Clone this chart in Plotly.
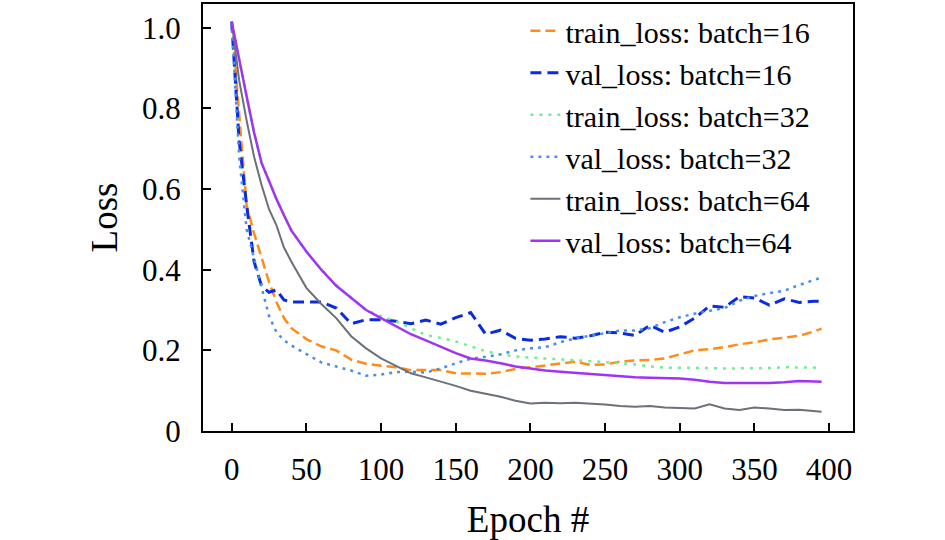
import plotly.graph_objects as go

epochs = [0, 5, 10, 15, 20, 25, 30, 35, 40, 50, 60, 70, 80, 90, 100, 110, 120, 130, 140, 150,
          160, 170, 180, 190, 200, 210, 220, 230, 240, 250, 260, 270, 280, 290, 300, 310,
          320, 330, 340, 350, 360, 370, 380, 390, 395]

train_loss_16 = [1.015, 0.78, 0.56, 0.49, 0.43, 0.37, 0.32, 0.28, 0.255, 0.228, 0.21, 0.2, 0.177,
                 0.167, 0.162, 0.158, 0.151, 0.151, 0.151, 0.143, 0.142, 0.142, 0.146, 0.154,
                 0.158, 0.163, 0.168, 0.172, 0.164, 0.165, 0.172, 0.175, 0.176, 0.18, 0.19, 0.2,
                 0.203, 0.208, 0.215, 0.22, 0.227, 0.232, 0.236, 0.247, 0.254]
val_loss_16 = [1.015, 0.72, 0.56, 0.42, 0.36, 0.344, 0.35, 0.325, 0.32, 0.32, 0.32, 0.305, 0.266,
               0.276, 0.276, 0.272, 0.266, 0.275, 0.265, 0.281, 0.294, 0.24, 0.25, 0.23, 0.225,
               0.228, 0.234, 0.23, 0.236, 0.245, 0.243, 0.237, 0.262, 0.245, 0.258, 0.28, 0.31,
               0.307, 0.333, 0.33, 0.312, 0.328, 0.319, 0.322, 0.322]
train_loss_32 = [1.015, 0.92, 0.83, 0.74, 0.665, 0.62, 0.575, 0.535, 0.497, 0.445, 0.4, 0.362,
                 0.332, 0.3, 0.285, 0.272, 0.255, 0.238, 0.231, 0.222, 0.21, 0.198, 0.19, 0.185,
                 0.182, 0.18, 0.178, 0.176, 0.174, 0.171, 0.168, 0.165, 0.16, 0.157, 0.157, 0.157,
                 0.156, 0.155, 0.155, 0.155, 0.156, 0.158, 0.157, 0.157, 0.157]
val_loss_32 = [1.015, 0.68, 0.5, 0.43, 0.356, 0.285, 0.245, 0.225, 0.212, 0.19, 0.17, 0.16, 0.15,
               0.137, 0.14, 0.146, 0.147, 0.145, 0.155, 0.168, 0.179, 0.184, 0.19, 0.2, 0.205,
               0.208, 0.22, 0.23, 0.236, 0.243, 0.249, 0.249, 0.255, 0.27, 0.282, 0.291, 0.298,
               0.305, 0.323, 0.335, 0.342, 0.348, 0.362, 0.375, 0.381]
train_loss_64 = [1.015, 0.87, 0.77, 0.68, 0.61, 0.55, 0.51, 0.455, 0.42, 0.355, 0.315, 0.28, 0.235,
                 0.205, 0.18, 0.162, 0.143, 0.133, 0.123, 0.112, 0.1, 0.092, 0.085, 0.075, 0.068,
                 0.07, 0.069, 0.07, 0.068, 0.066, 0.062, 0.06, 0.062, 0.058, 0.057, 0.056, 0.066,
                 0.056, 0.052, 0.058, 0.056, 0.052, 0.053, 0.05, 0.048]
val_loss_64 = [1.015, 0.92, 0.83, 0.74, 0.665, 0.62, 0.575, 0.535, 0.497, 0.445, 0.4, 0.36, 0.33,
               0.3, 0.28, 0.26, 0.24, 0.225, 0.21, 0.193, 0.18, 0.175, 0.168, 0.16, 0.155, 0.15,
               0.147, 0.144, 0.141, 0.138, 0.135, 0.133, 0.132, 0.131, 0.13, 0.127, 0.122, 0.119,
               0.119, 0.118, 0.119, 0.121, 0.124, 0.123, 0.122]

series = [
    ("train_loss: batch=16", train_loss_16, "#ff8c1a", 2.5, "10px,5px"),
    ("val_loss: batch=16", val_loss_16, "#0a2be0", 3, "11px,6px"),
    ("train_loss: batch=32", train_loss_32, "#6ef08c", 2.5, "3px,6px"),
    ("val_loss: batch=32", val_loss_32, "#4a90e8", 2.5, "3px,5px"),
    ("train_loss: batch=64", train_loss_64, "#6b7178", 2, "solid"),
    ("val_loss: batch=64", val_loss_64, "#a033f5", 2.5, "solid"),
]

font = "Liberation Serif, Times New Roman, serif"

fig = go.Figure()
for name, values, color, width, dash in series:
    fig.add_trace(go.Scatter(x=epochs, y=values, mode="lines", name=name,
                             line=dict(color=color, width=width, dash=dash)))

fig.update_layout(
    width=945,
    height=540,
    margin=dict(l=203, r=92, t=2, b=109),
    plot_bgcolor="white",
    paper_bgcolor="white",
    font=dict(family=font, size=31, color="black"),
    showlegend=True,
    legend=dict(x=0.496, y=0.998, xanchor="left", yanchor="top",
                bgcolor="rgba(0,0,0,0)", font=dict(size=30), tracegroupgap=0),
    xaxis=dict(
        title=dict(text="Epoch #", standoff=25),
        range=[-19.2, 416],
        tickvals=[0, 50, 100, 150, 200, 250, 300, 350, 400],
        ticks="inside", ticklen=8, tickwidth=2, tickcolor="black",
        showline=True, linecolor="black", linewidth=2, mirror=True,
        showgrid=False, zeroline=False, ticklabelstandoff=10,
    ),
    yaxis=dict(
        title=dict(text="Loss", standoff=13),
        range=[0, 1.059],
        tickvals=[0, 0.2, 0.4, 0.6, 0.8, 1.0],
        ticktext=["0", "0.2", "0.4", "0.6", "0.8", "1.0"],
        ticks="inside", ticklen=8, tickwidth=2, tickcolor="black",
        showline=True, linecolor="black", linewidth=2, mirror=True,
        showgrid=False, zeroline=False, ticklabelstandoff=14,
    ),
)

# the page's default body margin would push the 945x540 figure off the window
fig.write_html("out.html", config={"displayModeBar": False},
               post_script="document.body.style.margin='0';")
